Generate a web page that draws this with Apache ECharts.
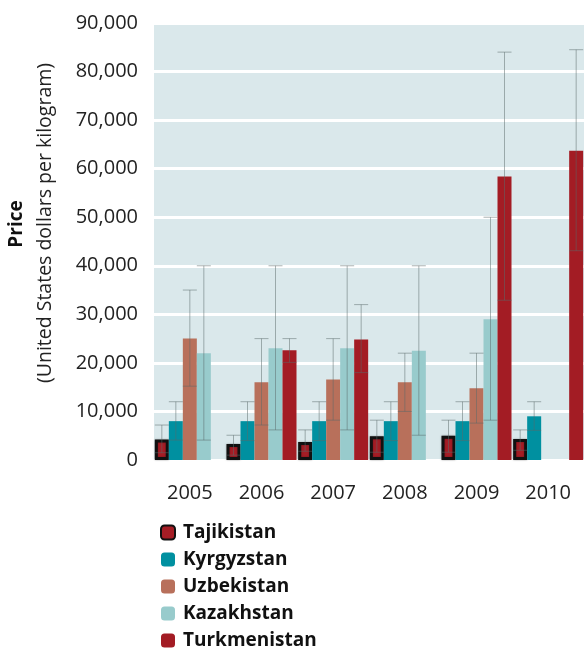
<!DOCTYPE html>
<html>
<head>
    <meta charset="utf-8">
    <title>Price by country</title>
    <script src="https://cdnjs.cloudflare.com/ajax/libs/echarts/6.0.0/echarts.min.js"></script>
    <style>
        html, body { margin: 0; padding: 0; background: #fff; }
        #chart { width: 584px; height: 650px; }
    </style>
</head>
<body>
    <div id="chart"></div>
    <script>
        const years = ['2005', '2006', '2007', '2008', '2009', '2010'];
        const countries = ['Tajikistan', 'Kyrgyzstan', 'Uzbekistan', 'Kazakhstan', 'Turkmenistan'];

        // mean price per country, null = no data
        const tajikistan   = [4200, 3300, 3700, 4900, 5000, 4300];
        const kyrgyzstan   = [8000, 8000, 8000, 8000, 8000, 9000];
        const uzbekistan   = [25000, 16000, 16600, 16000, 14800, null];
        const kazakhstan   = [22000, 23000, 23000, 22500, 29000, null];
        const turkmenistan = [null, 22600, 24800, null, 58400, 63700];

        // error ranges (low / high)
        const tajikistanLow   = [1500, 1000, 1800, 1600, 1600, 2000];
        const tajikistanHigh  = [7200, 5100, 6200, 8200, 8200, 6200];
        const kyrgyzstanLow   = [4100, 4000, 4000, 4000, 4000, 6100];
        const kyrgyzstanHigh  = [12000, 12000, 12000, 12000, 12000, 12000];
        const uzbekistanLow   = [15200, 7200, 8200, 10000, 7600, null];
        const uzbekistanHigh  = [35000, 25000, 25000, 22000, 22000, null];
        const kazakhstanLow   = [4100, 6200, 6200, 5100, 8200, null];
        const kazakhstanHigh  = [40000, 40000, 40000, 40000, 50000, null];
        const turkmenistanLow  = [null, 20100, 18000, null, 32900, 43100];
        const turkmenistanHigh = [null, 25000, 32000, null, 84000, 84500];

        const yTicks = [0, 10000, 20000, 30000, 40000, 50000, 60000, 70000, 80000, 90000];

        const values = [tajikistan, kyrgyzstan, uzbekistan, kazakhstan, turkmenistan];
        const lows = [tajikistanLow, kyrgyzstanLow, uzbekistanLow, kazakhstanLow, turkmenistanLow];
        const highs = [tajikistanHigh, kyrgyzstanHigh, uzbekistanHigh, kazakhstanHigh, turkmenistanHigh];
        const colors = ['#a51d25', '#0090a0', '#b8705b', '#98cbcc', '#a31c24'];

        const BAR_W = 14;
        const FONT = '"Open Sans", "Noto Sans", sans-serif';

        const errData = [];
        values.forEach((arr, s) => {
            arr.forEach((v, i) => {
                if (v != null && lows[s][i] != null) {
                    errData.push([i, lows[s][i], highs[s][i], s]);
                }
            });
        });

        function renderErr(params, api) {
            const cat = api.value(0);
            const lo = api.coord([cat, api.value(1)]);
            const hi = api.coord([cat, api.value(2)]);
            const x = lo[0] + (api.value(3) - 2) * BAR_W;
            const style = { stroke: 'rgba(90,105,105,0.5)', lineWidth: 1 };
            return {
                type: 'group',
                children: [
                    { type: 'line', shape: { x1: x, y1: hi[1], x2: x, y2: lo[1] }, style: style },
                    { type: 'line', shape: { x1: x - 7, y1: hi[1], x2: x + 7, y2: hi[1] }, style: style },
                    { type: 'line', shape: { x1: x - 7, y1: lo[1], x2: x + 7, y2: lo[1] }, style: style }
                ]
            };
        }

        const chart = echarts.init(document.getElementById('chart'));

        const barSeries = countries.map((name, s) => ({
            name: name,
            type: 'bar',
            barWidth: BAR_W,
            barGap: '0%',
            data: values[s],
            itemStyle: s === 0 ? {
                color: colors[s],
                borderColor: '#111',
                borderWidth: 3,
                shadowColor: 'rgba(0,0,0,0.35)',
                shadowBlur: 2
            } : { color: colors[s] }
        }));

        chart.setOption({
            animation: false,
            grid: {
                left: 154,
                right: -2,
                top: 23,
                bottom: 190,
                show: true,
                backgroundColor: '#dae8eb',
                borderWidth: 0
            },
            legend: {
                orient: 'vertical',
                left: 160,
                top: 522,
                height: 140,
                padding: 0,
                itemWidth: 14,
                itemHeight: 14,
                itemGap: 6,
                data: countries,
                textStyle: {
                    fontFamily: FONT, fontSize: 19, fontWeight: 'bold', color: '#111',
                    lineHeight: 21, padding: [0, 0, 0, 3]
                }
            },
            xAxis: {
                type: 'category',
                data: years,
                axisLine: { show: false },
                axisTick: { show: false },
                axisLabel: { fontFamily: FONT, fontSize: 20, color: '#222', margin: 23 }
            },
            yAxis: {
                type: 'value',
                min: yTicks[0],
                max: yTicks[yTicks.length - 1],
                interval: 10000,
                axisLine: { show: false },
                axisTick: { show: false },
                splitLine: { lineStyle: { color: '#ffffff', width: 3 } },
                axisLabel: {
                    fontFamily: FONT,
                    fontSize: 20,
                    color: '#222',
                    margin: 16,
                    formatter: v => v.toLocaleString('en-US')
                }
            },
            graphic: [
                {
                    type: 'text',
                    x: 17, y: 224, rotation: Math.PI / 2,
                    style: { text: 'Price', font: 'bold 19px ' + FONT, fill: '#111', align: 'center', verticalAlign: 'middle' }
                },
                {
                    type: 'text',
                    x: 45, y: 223, rotation: Math.PI / 2,
                    style: { text: '(United States dollars per kilogram)', font: '19.5px ' + FONT, fill: '#222', align: 'center', verticalAlign: 'middle' }
                }
            ],
            series: barSeries.concat([{
                type: 'custom',
                renderItem: renderErr,
                data: errData,
                encode: { x: 0, y: [1, 2] },
                z: 5,
                silent: true
            }])
        });
    </script>
</body>
</html>
